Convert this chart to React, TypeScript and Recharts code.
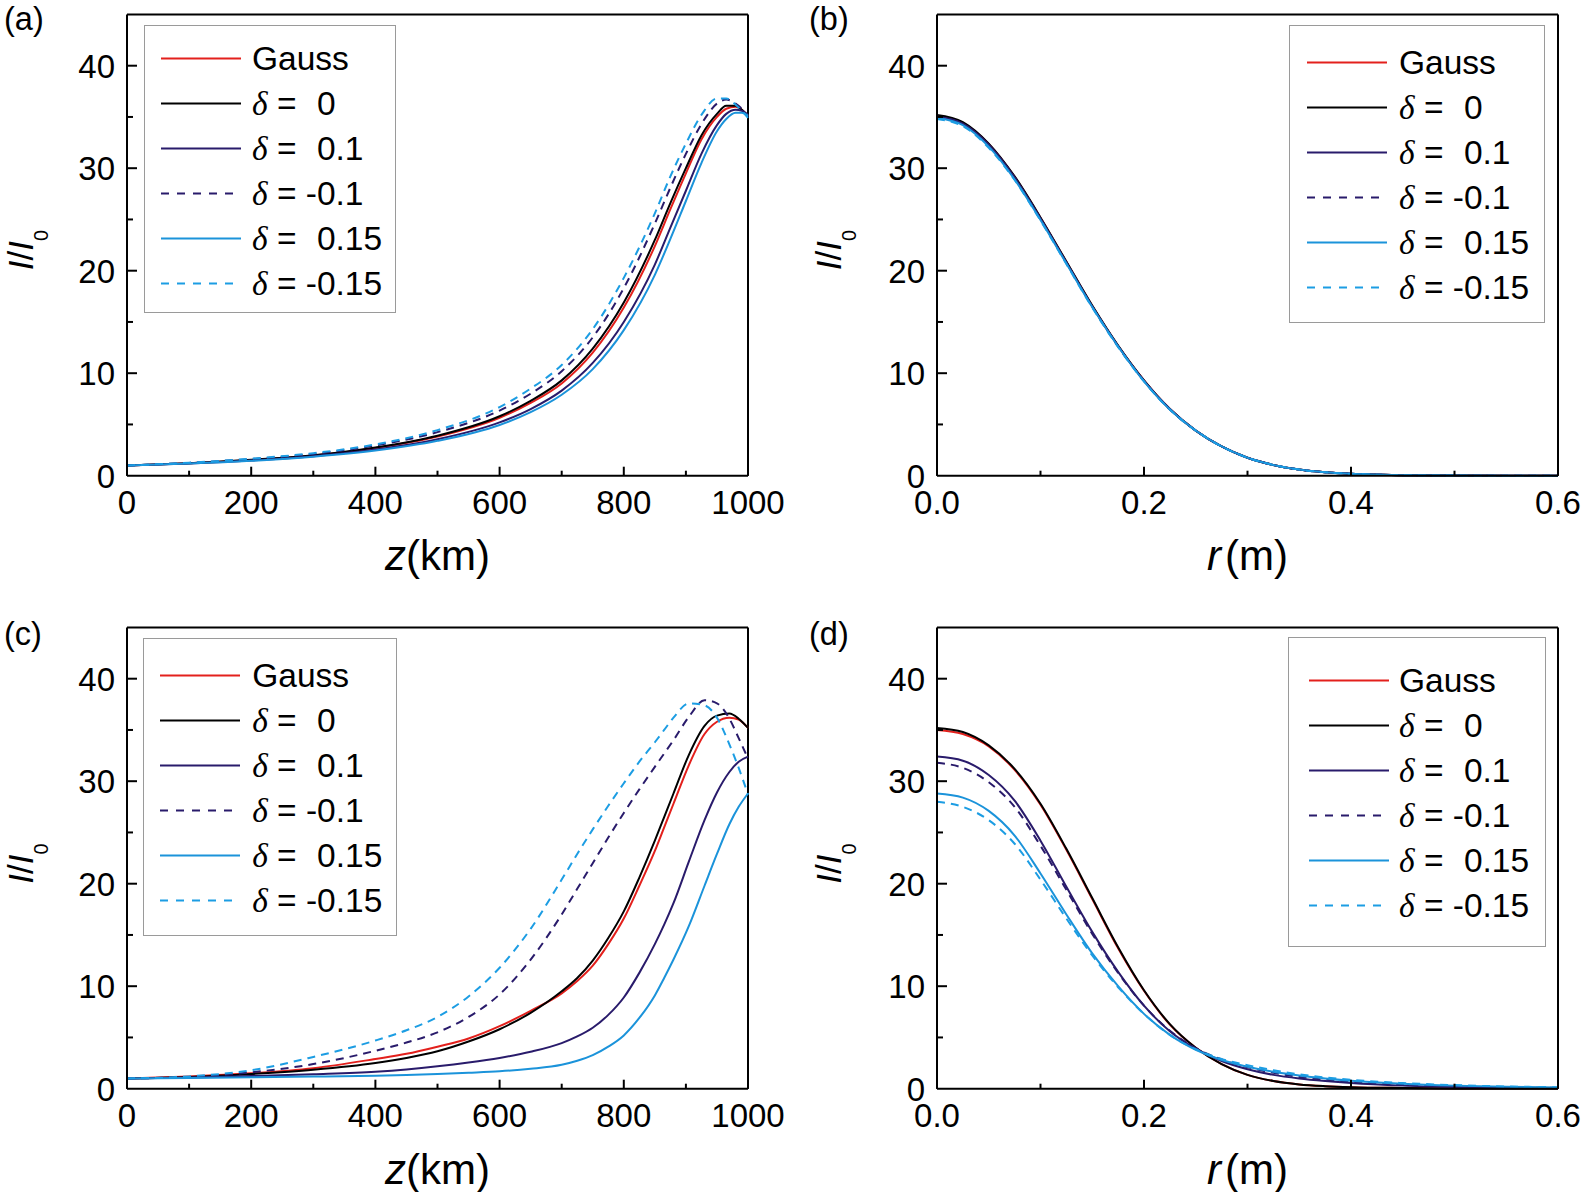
import React from 'react';
import { LineChart, Line, XAxis, YAxis, ReferenceLine, Legend } from 'recharts';

const FONT = '"Liberation Sans", Arial, Helvetica, sans-serif';
const SERIF = '"Liberation Serif", "Times New Roman", serif';

// ---------- x values (categories) ----------
const zA = [0, 100, 200, 300, 400, 500, 600, 650, 700, 750, 800, 850, 875, 900, 925, 950, 965, 980, 990, 1000];
const rB = [0, 0.025, 0.05, 0.075, 0.1, 0.125, 0.15, 0.175, 0.2, 0.225, 0.25, 0.275, 0.3, 0.325, 0.35, 0.375, 0.4, 0.45, 0.5, 0.55, 0.6];
const zC = [0, 100, 200, 300, 400, 450, 500, 550, 600, 650, 700, 725, 750, 775, 800, 825, 850, 865, 880, 905, 930, 950, 970, 985, 1000];
const rD = [0, 0.025, 0.05, 0.075, 0.1, 0.125, 0.15, 0.175, 0.2, 0.225, 0.25, 0.275, 0.3, 0.325, 0.35, 0.375, 0.4, 0.45, 0.5, 0.55, 0.6];

// ---------- panel (a): I/I0 vs z ----------
const aGauss = [1.0, 1.21, 1.53, 1.97, 2.7, 3.82, 5.65, 7.1, 9.0, 12.0, 16.4, 22.4, 26.0, 29.5, 32.8, 35.0, 35.8, 36.0, 35.7, 35.1];
const aD0 = [1.0, 1.22, 1.55, 2.0, 2.75, 3.9, 5.8, 7.3, 9.3, 12.4, 16.9, 23.0, 26.6, 30.0, 33.2, 35.3, 36.1, 36.1, 35.7, 35.1];
const aD01 = [1.0, 1.19, 1.48, 1.9, 2.55, 3.55, 5.2, 6.5, 8.3, 11.0, 15.0, 20.6, 24.2, 27.8, 31.4, 34.2, 35.3, 35.7, 35.6, 35.2];
const aDm01 = [1.0, 1.25, 1.62, 2.12, 2.95, 4.25, 6.35, 8.0, 10.2, 13.5, 18.3, 24.6, 28.1, 31.4, 34.3, 36.3, 36.7, 36.3, 35.8, 35.0];
const aD015 = [1.0, 1.18, 1.45, 1.85, 2.45, 3.4, 4.95, 6.2, 7.9, 10.4, 14.2, 19.6, 23.1, 26.8, 30.5, 33.6, 34.8, 35.4, 35.4, 35.1];
const aDm015 = [1.0, 1.27, 1.66, 2.2, 3.05, 4.45, 6.7, 8.5, 10.8, 14.3, 19.3, 25.6, 29.2, 32.4, 35.2, 36.8, 36.8, 36.2, 35.6, 34.9];

// ---------- panel (b): I/I0 vs r ----------
const bGauss = [35.1, 34.4, 32.35, 29.15, 25.15, 20.85, 16.55, 12.65, 9.3, 6.5, 4.4, 2.85, 1.75, 1.05, 0.6, 0.33, 0.18, 0.05, 0.01, 0, 0];
const bD0 = [35.2, 34.5, 32.4, 29.2, 25.2, 20.9, 16.6, 12.7, 9.3, 6.5, 4.4, 2.85, 1.75, 1.05, 0.6, 0.33, 0.18, 0.05, 0.01, 0, 0];
const bD01 = [35.05, 34.35, 32.3, 29.1, 25.1, 20.8, 16.5, 12.65, 9.25, 6.5, 4.4, 2.85, 1.75, 1.05, 0.6, 0.33, 0.18, 0.05, 0.01, 0, 0];
const bDm01 = [35.0, 34.3, 32.25, 29.05, 25.05, 20.8, 16.5, 12.6, 9.25, 6.45, 4.4, 2.85, 1.75, 1.05, 0.6, 0.33, 0.18, 0.05, 0.01, 0, 0];
const bD015 = [34.9, 34.2, 32.1, 28.9, 24.95, 20.7, 16.45, 12.6, 9.2, 6.45, 4.4, 2.85, 1.75, 1.05, 0.6, 0.33, 0.18, 0.05, 0.01, 0, 0];
const bDm015 = [34.8, 34.1, 32.0, 28.85, 24.9, 20.65, 16.4, 12.55, 9.2, 6.45, 4.4, 2.85, 1.75, 1.05, 0.6, 0.33, 0.18, 0.05, 0.01, 0, 0];

// ---------- panel (c): I/I0 vs z ----------
const cGauss = [1.0, 1.2, 1.5, 2.0, 2.9, 3.4, 4.1, 4.9, 6.1, 7.6, 9.3, 10.5, 12.0, 14.1, 16.6, 19.8, 23.2, 25.5, 27.8, 31.6, 34.6, 35.8, 36.2, 36.0, 35.2];
const cD0 = [1.0, 1.15, 1.44, 1.85, 2.5, 3.0, 3.65, 4.6, 5.8, 7.4, 9.5, 10.8, 12.5, 14.7, 17.3, 20.6, 24.2, 26.5, 28.8, 32.6, 35.4, 36.4, 36.6, 36.1, 35.2];
const cD01 = [1.0, 1.1, 1.24, 1.42, 1.66, 1.88, 2.18, 2.55, 3.0, 3.6, 4.45, 5.1, 5.95, 7.2, 8.9, 11.3, 14.1, 16.0, 18.1, 22.2, 26.2, 28.9, 30.9, 31.9, 32.4];
const cDm01 = [1.0, 1.15, 1.6, 2.4, 3.7, 4.5, 5.5, 7.0, 9.2, 12.6, 17.0, 19.5, 22.0, 24.5, 26.9, 29.2, 31.4, 32.7, 34.0, 36.3, 37.9, 37.6, 36.1, 34.2, 32.2];
const cD015 = [1.0, 1.05, 1.11, 1.18, 1.27, 1.34, 1.44, 1.56, 1.7, 1.94, 2.33, 2.72, 3.27, 4.1, 5.2, 6.9, 9.1, 10.8, 12.6, 15.9, 19.8, 22.9, 25.8, 27.5, 28.8];
const cDm015 = [1.0, 1.2, 1.8, 3.1, 4.7, 5.7, 7.0, 9.0, 11.8, 15.6, 20.4, 22.9, 25.3, 27.6, 29.8, 31.9, 33.8, 35.0, 36.2, 37.6, 37.4, 36.2, 33.6, 31.3, 28.7];

// ---------- panel (d): I/I0 vs r ----------
const dGauss = [35.0, 34.6, 33.4, 31.1, 27.7, 23.3, 18.5, 13.7, 9.55, 6.25, 4.0, 2.4, 1.35, 0.75, 0.42, 0.25, 0.15, 0.07, 0.03, 0.02, 0.01];
const dD0 = [35.2, 34.8, 33.5, 31.2, 27.8, 23.4, 18.6, 13.8, 9.6, 6.3, 4.0, 2.4, 1.35, 0.75, 0.42, 0.25, 0.15, 0.07, 0.03, 0.02, 0.01];
const dD01 = [32.4, 32.0, 30.6, 28.1, 24.2, 19.7, 15.3, 11.4, 8.1, 5.6, 3.9, 2.7, 1.9, 1.35, 1.0, 0.75, 0.55, 0.3, 0.17, 0.1, 0.06];
const dDm01 = [31.8, 31.3, 29.9, 27.5, 23.7, 19.4, 15.1, 11.3, 8.1, 5.65, 3.95, 2.85, 2.1, 1.55, 1.15, 0.88, 0.66, 0.38, 0.22, 0.13, 0.08];
const dD015 = [28.8, 28.4, 27.1, 24.7, 21.0, 17.0, 13.2, 10.0, 7.3, 5.25, 3.8, 2.8, 2.15, 1.65, 1.28, 1.0, 0.78, 0.48, 0.3, 0.19, 0.12];
const dDm015 = [28.0, 27.5, 26.2, 23.9, 20.4, 16.6, 13.0, 9.9, 7.3, 5.25, 3.85, 2.9, 2.3, 1.8, 1.4, 1.1, 0.87, 0.55, 0.35, 0.22, 0.14];

// ---------- ticks ----------
const zTicks = [0, 100, 200, 300, 400, 500, 600, 700, 800, 900, 1000];
const zTickLabels = [0, 200, 400, 600, 800, 1000];
const rTicks = [0, 0.1, 0.2, 0.3, 0.4, 0.5, 0.6];
const rTickValues = [0, 0.2, 0.4, 0.6];
const rTickLabels = ['0.0', '0.2', '0.4', '0.6'];
const yTicks = [0, 5, 10, 15, 20, 25, 30, 35, 40, 45];
const yTickLabels = [0, 10, 20, 30, 40];

// ---------- series ----------
const seriesKeys = ['gauss', 'd0', 'd01', 'dm01', 'd015', 'dm015'];
const seriesNames = ['Gauss', 'δ = 0', 'δ = 0.1', 'δ = -0.1', 'δ = 0.15', 'δ = -0.15'];
const legendValues = [null, '0', '0.1', '-0.1', '0.15', '-0.15'];
const seriesColors = ['#e3201c', '#000000', '#291b6b', '#291b6b', '#1b93da', '#1c9de3'];
const seriesDashed = [false, false, false, true, false, true];

const TICK_FS = 33;
const LEGEND_FS = 33.5;

const build = (xs: number[], cols: number[][]) =>
  xs.map((x, i) => {
    const o: any = { x };
    seriesKeys.forEach((k, j) => {
      o[k] = cols[j][i];
    });
    return o;
  });

const zLabel = (v: number) => {
  const hit = zTickLabels.find((m) => m === v);
  return hit === undefined ? null : String(hit);
};
const rLabel = (v: number) => {
  const idx = rTickValues.findIndex((m) => Math.abs(m - v) < 1e-9);
  return idx < 0 ? null : rTickLabels[idx];
};

const panels = [
  {
    id: 'a', left: 0, top: 0, kind: 'z', domain: [0, 1000], ticks: zTicks,
    data: build(zA, [aGauss, aD0, aD01, aDm01, aD015, aDm015]),
    legend: { left: 144, top: 25, w: 252, h: 288, pad: 10, lineLeft: 16, textLeft: 107 },
  },
  {
    id: 'b', left: 810, top: 0, kind: 'r', domain: [0, 0.6], ticks: rTicks,
    data: build(rB, [bGauss, bD0, bD01, bDm01, bD015, bDm015]),
    legend: { left: 479, top: 25, w: 256, h: 298, pad: 14, lineLeft: 17, textLeft: 109 },
  },
  {
    id: 'c', left: 0, top: 613.3, kind: 'z', domain: [0, 1000], ticks: zTicks,
    data: build(zC, [cGauss, cD0, cD01, cDm01, cD015, cDm015]),
    legend: { left: 142.7, top: 25, w: 254, h: 298, pad: 13.5, lineLeft: 16.5, textLeft: 108.5 },
  },
  {
    id: 'd', left: 810, top: 613.3, kind: 'r', domain: [0, 0.6], ticks: rTicks,
    data: build(rD, [dGauss, dD0, dD01, dDm01, dD015, dDm015]),
    legend: { left: 478, top: 23.7, w: 257.5, h: 310, pad: 20.5, lineLeft: 20, textLeft: 110 },
  },
];

const makeXTick = (kind: string) => (props: any) => {
  const { x, y, payload } = props;
  const v = payload.value;
  const lab = kind === 'z' ? zLabel(v) : rLabel(v);
  const len = lab !== null ? 9 : 5;
  return (
    <g>
      <line x1={x} x2={x} y1={y} y2={y - len} stroke="#000" strokeWidth={2} />
      {lab !== null && (
        <text x={x} y={y + 38} textAnchor="middle" fontSize={TICK_FS} fontFamily={FONT} fill="#000">
          {lab}
        </text>
      )}
    </g>
  );
};

const YTick = (props: any) => {
  const { x, y, payload } = props;
  const v = payload.value;
  const major = yTickLabels.includes(v);
  return (
    <g>
      {v > 0 && v < 45 && (
        <line x1={x} x2={x + (major ? 10 : 6)} y1={y} y2={y} stroke="#000" strokeWidth={2} />
      )}
      {major && (
        <text x={x - 12} y={y + 12} textAnchor="end" fontSize={TICK_FS} fontFamily={FONT} fill="#000">
          {v}
        </text>
      )}
    </g>
  );
};

const LegendBox = ({ cfg }: { cfg: any }) => (
  <div
    style={{
      boxSizing: 'border-box',
      width: cfg.w,
      height: cfg.h,
      border: '1px solid #9a9a9a',
      background: '#fff',
      paddingTop: cfg.pad,
      fontFamily: FONT,
      fontSize: LEGEND_FS,
      color: '#000',
    }}
  >
    {seriesNames.map((name, i) => {
      const val = legendValues[i];
      return (
        <div key={name} style={{ height: 45, position: 'relative' }}>
          <svg style={{ position: 'absolute', left: cfg.lineLeft, top: 21 }} width={80} height={3}>
            <line
              x1={0}
              x2={80}
              y1={1.5}
              y2={1.5}
              stroke={seriesColors[i]}
              strokeWidth={2}
              strokeDasharray={seriesDashed[i] ? '8 8' : undefined}
            />
          </svg>
          <span style={{ position: 'absolute', left: cfg.textLeft, top: 0, lineHeight: '45px', whiteSpace: 'pre' }}>
            {val === null ? (
              name
            ) : (
              <>
                <span style={{ fontFamily: SERIF, fontStyle: 'italic' }}>δ</span>
                {' = '}
                <span style={{ visibility: val.startsWith('-') ? 'visible' : 'hidden' }}>-</span>
                {val.replace('-', '')}
              </>
            )}
          </span>
        </div>
      );
    })}
  </div>
);

const Panel = ({ cfg }: { cfg: any }) => (
  <div style={{ position: 'absolute', left: cfg.left, top: cfg.top }}>
    <LineChart
      width={795}
      height={600}
      data={cfg.data}
      margin={{ top: 14.45, right: 47, bottom: 94.3, left: 67 }}
    >
      <XAxis
        dataKey="x"
        type="number"
        domain={cfg.domain}
        ticks={cfg.ticks}
        interval={0}
        tickLine={false}
        tickSize={0}
        tickMargin={0}
        height={30}
        axisLine={{ stroke: '#000', strokeWidth: 2 }}
        tick={makeXTick(cfg.kind)}
      />
      <YAxis
        type="number"
        domain={[0, 45]}
        ticks={yTicks}
        interval={0}
        tickLine={false}
        tickSize={0}
        tickMargin={0}
        width={60}
        axisLine={{ stroke: '#000', strokeWidth: 2 }}
        tick={YTick}
      />
      <ReferenceLine y={45} stroke="#000" strokeWidth={2} />
      <ReferenceLine x={cfg.domain[1]} stroke="#000" strokeWidth={2} />
      <Legend
        layout="vertical"
        align="center"
        verticalAlign="middle"
        wrapperStyle={{ left: cfg.legend.left, top: cfg.legend.top, width: cfg.legend.w, height: cfg.legend.h }}
        content={() => <LegendBox cfg={cfg.legend} />}
      />
      {seriesKeys.map((k, i) => (
        <Line
          key={k}
          dataKey={k}
          name={seriesNames[i]}
          type="monotone"
          stroke={seriesColors[i]}
          strokeWidth={2}
          strokeDasharray={seriesDashed[i] ? '8 6' : undefined}
          dot={false}
          activeDot={false}
          isAnimationActive={false}
        />
      ))}
    </LineChart>
  </div>
);

const YTitle = ({ x, y }: { x: number; y: number }) => (
  <text transform={`translate(${x},${y}) rotate(-90)`} textAnchor="middle" fontSize={35} fontFamily={FONT} fill="#000">
    <tspan fontStyle="italic">I</tspan>
    <tspan>/</tspan>
    <tspan fontStyle="italic">I</tspan>
    <tspan fontSize={20} dy={15}>0</tspan>
  </text>
);

export default function App() {
  return (
    <div
      style={{
        position: 'absolute',
        left: 0,
        top: 0,
        width: 1581,
        height: 1192,
        overflow: 'hidden',
        background: '#fff',
        fontFamily: FONT,
      }}
    >
      {panels.map((p) => (
        <Panel key={p.id} cfg={p} />
      ))}
      <svg width={1581} height={1192} style={{ position: 'absolute', left: 0, top: 0, pointerEvents: 'none' }}>
        <g fontFamily={FONT} fill="#000">
          <text x={4} y={29.5} fontSize={32.5}>(a)</text>
          <text x={809} y={29.5} fontSize={32.5}>(b)</text>
          <text x={4} y={645} fontSize={32.5}>(c)</text>
          <text x={809} y={645} fontSize={32.5}>(d)</text>

          <text x={437.5} y={570} textAnchor="middle" fontSize={42}>
            <tspan fontStyle="italic">z</tspan>
            <tspan>(km)</tspan>
          </text>
          <text x={1247.5} y={570} textAnchor="middle" fontSize={42}>
            <tspan fontStyle="italic">r</tspan>
            <tspan dx={4}>(m)</tspan>
          </text>
          <text x={437.5} y={1183.5} textAnchor="middle" fontSize={42}>
            <tspan fontStyle="italic">z</tspan>
            <tspan>(km)</tspan>
          </text>
          <text x={1247.5} y={1183.5} textAnchor="middle" fontSize={42}>
            <tspan fontStyle="italic">r</tspan>
            <tspan dx={4}>(m)</tspan>
          </text>
        </g>
        <YTitle x={33} y={250} />
        <YTitle x={841} y={250} />
        <YTitle x={33} y={863.5} />
        <YTitle x={841} y={863.5} />
      </svg>
    </div>
  );
}
